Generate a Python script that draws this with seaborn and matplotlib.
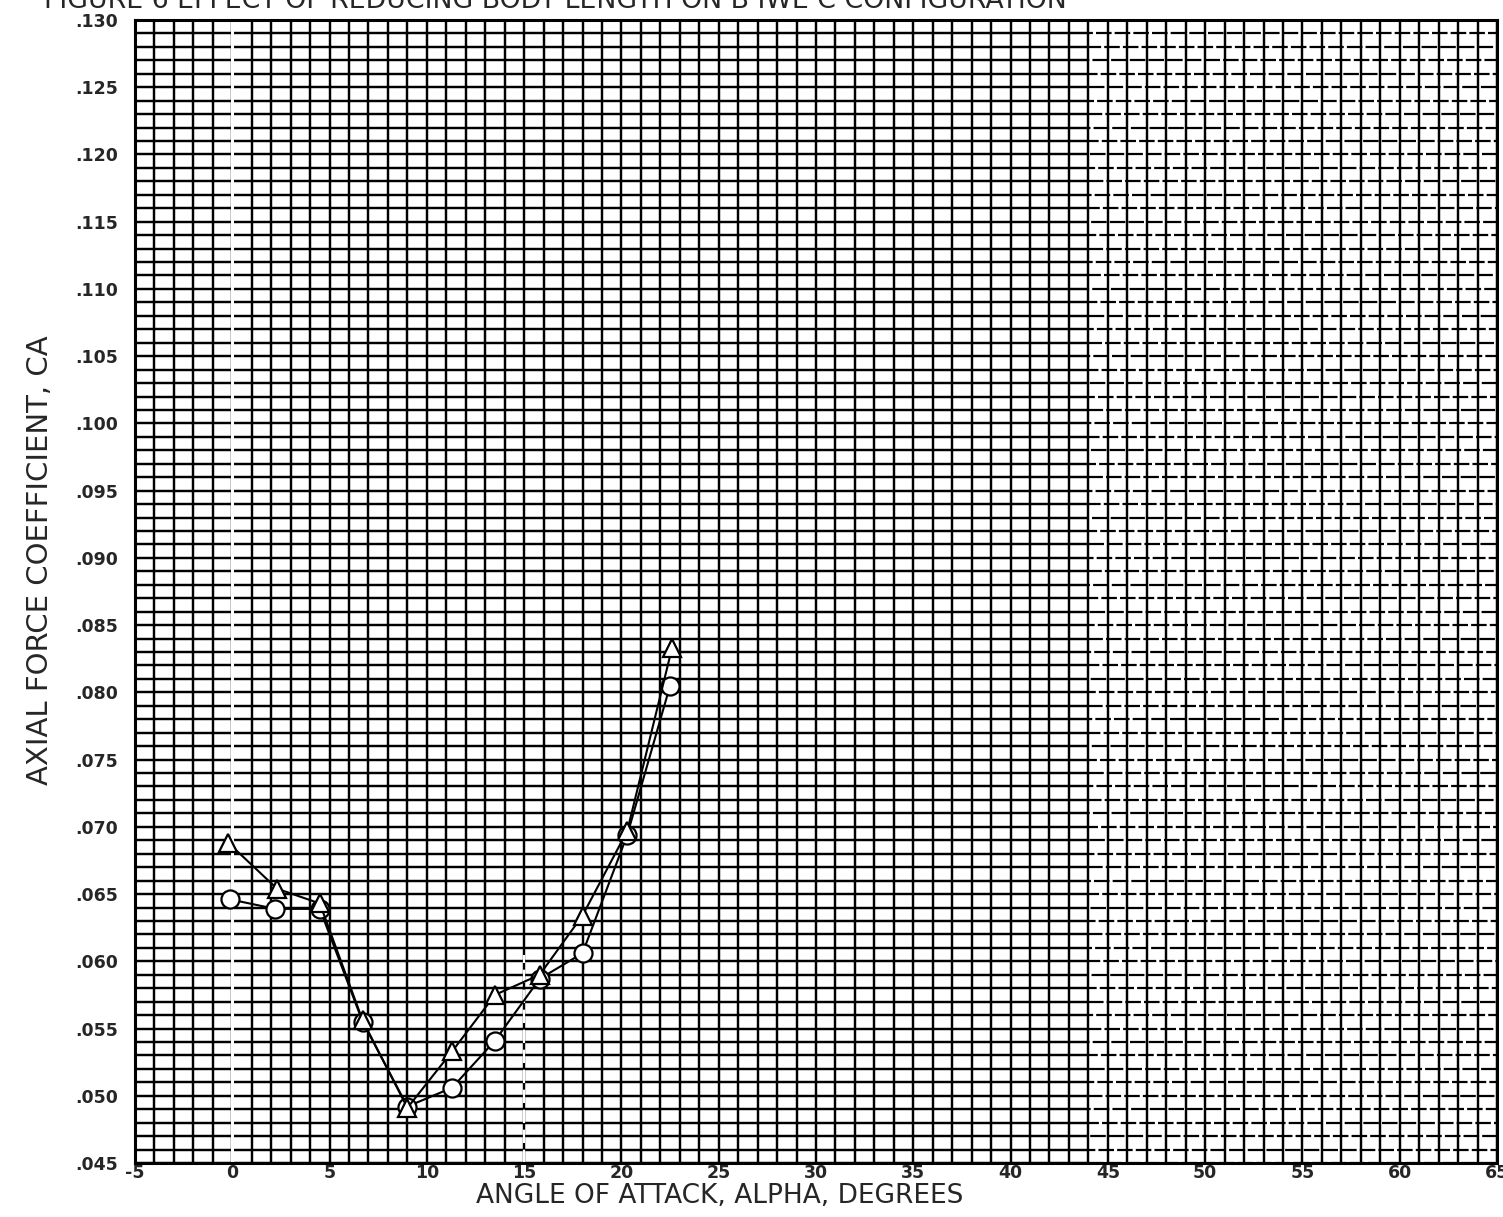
import numpy as np
import pandas as pd
import matplotlib
matplotlib.use("Agg")
import matplotlib.pyplot as plt
import seaborn as sns

# Axial force coefficient vs angle of attack, two body lengths
alpha_circle = [-0.1, 2.2, 4.5, 6.7, 9.0, 11.3, 13.5, 15.8, 18.0, 20.3, 22.5]
ca_circle = [0.0646, 0.0639, 0.0639, 0.0555, 0.0492, 0.0506, 0.0541, 0.0587, 0.0606, 0.0694, 0.0805]

alpha_triangle = [-0.2, 2.3, 4.5, 6.7, 9.0, 11.3, 13.5, 15.8, 18.0, 20.3, 22.6]
ca_triangle = [0.0688, 0.0654, 0.0643, 0.0556, 0.0491, 0.0533, 0.0575, 0.0590, 0.0634, 0.0697, 0.0833]

x_ticks = list(range(-5, 66, 5))
y_ticks = [round(0.045 + 0.005 * i, 3) for i in range(18)]

title = "FIGURE 6 EFFECT OF REDUCING BODY LENGTH ON B IWE C CONFIGURATION"
x_label = "ANGLE OF ATTACK, ALPHA, DEGREES"
y_label = "AXIAL FORCE COEFFICIENT, CA"

sns.set_theme(style="white")
plt.rcParams["font.family"] = ["DejaVu Sans"]

W, H = 1503, 1217
fig = plt.figure(figsize=(W / 100, H / 100), dpi=100)
ax = fig.add_axes([135 / W, 1 - 1163 / H, (1497 - 135) / W, (1163 - 20) / H])

ax.set_xlim(-5, 65)
ax.set_ylim(0.045, 0.130)

# fine graph-paper grid: 1 degree by 0.001
grid_kw = dict(color="black", linewidth=1.75, zorder=1)
for xv in np.arange(-5, 66, 1):
    ax.axvline(xv, **grid_kw)
for i, yv in enumerate(np.arange(0.045, 0.1305, 0.001)):
    ax.hlines(yv, -5, 44, **grid_kw)
    off = (i * 3.7) % 9.0
    ax.hlines(yv, 44, 65, color="black", linewidth=1.6,
              linestyles=(off, (7, 1.4)), zorder=1)

# light streak along the zero-alpha line
ax.axvline(0, color="white", linewidth=2.2, zorder=2)
ax.plot([15, 15], [0.045, 0.0605], color="white", linewidth=1.6,
        linestyle=(0, (6, 3)), zorder=2)

df_c = pd.DataFrame({"alpha": alpha_circle, "ca": ca_circle})
df_t = pd.DataFrame({"alpha": alpha_triangle, "ca": ca_triangle})

sns.lineplot(data=df_c, x="alpha", y="ca", ax=ax, sort=False, color="black", linewidth=1.5,
             marker="o", markersize=13, markerfacecolor="white", markeredgecolor="black",
             markeredgewidth=1.6, zorder=5)
sns.lineplot(data=df_t, x="alpha", y="ca", ax=ax, sort=False, color="black", linewidth=1.5,
             marker="^", markersize=13, markerfacecolor="white", markeredgecolor="black",
             markeredgewidth=1.6, zorder=5)

ax.set_xticks(x_ticks)
ax.set_xticklabels([str(v) for v in x_ticks], fontsize=12.5, fontweight="bold")
ax.set_yticks(y_ticks)
ax.set_yticklabels([("%.3f" % v)[1:] for v in y_ticks], fontsize=12.5, fontweight="bold")
ax.tick_params(axis="x", length=0, pad=1)
ax.tick_params(axis="y", length=0, pad=12)

for s in ax.spines.values():
    s.set_color("black")
    s.set_linewidth(2.2)
    s.set_visible(True)

ax.set_xlabel("")
ax.set_ylabel("")
fig.text(720 / W, 1 - 1196 / H, x_label, fontsize=19, ha="center", va="center")
fig.text(40 / W, 1 - 560 / H, y_label, fontsize=21, rotation=90, ha="center", va="center")

fig.text(555 / W, 1 - 8 / H, title, fontsize=19.3, ha="center", va="baseline")

fig.savefig("out.png", dpi=100)
